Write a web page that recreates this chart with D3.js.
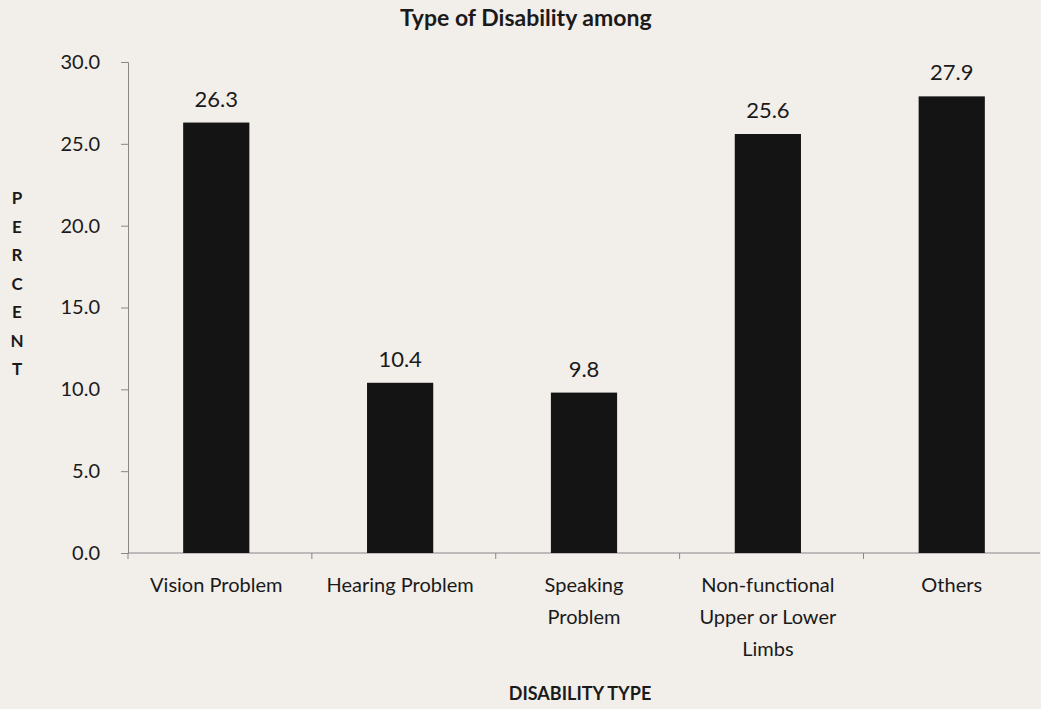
<!DOCTYPE html>
<html>
<head>
<meta charset="utf-8">
<script src="https://cdn.jsdelivr.net/npm/d3@7"></script>
<style>
  body { margin: 0; background: #f2eeea; }
  svg { display: block; }
  text { font-family: Lato, "Open Sans", sans-serif; fill: #1a1a1a; }
</style>
</head>
<body>
<svg id="chart"></svg>
<script>
let categories = [["Vision Problem"], ["Hearing Problem"], ["Speaking", "Problem"],
    ["Non-functional", "Upper or Lower", "Limbs"], ["Others"]]
let values = [26.3, 10.4, 9.8, 25.6, 27.9]
let tick_values = [0, 5, 10, 15, 20, 25, 30]

const width = 1041
const height = 709
const plot_left = 128, plot_right = 1040, plot_top = 62, plot_bottom = 553

const svg = d3.select("#chart")
    .attr("width", width)
    .attr("height", height)

svg.append("rect")
    .attr("width", width)
    .attr("height", height)
    .attr("fill", "#f2eeea")

const x = d3.scaleBand()
    .domain(d3.range(values.length))
    .range([plot_left, plot_right])
    .paddingInner(0.64)
    .paddingOuter(0.3)

const y = d3.scaleLinear()
    .domain([0, 30])
    .range([plot_bottom, plot_top])

// title (the scan cuts it at the top edge)
svg.append("text")
    .attr("x", 400)
    .attr("y", 26)
    .attr("font-size", 23)
    .attr("font-weight", "bold")
    .text("Type of Disability among")

// y axis
const yAxis = svg.append("g")
    .attr("transform", `translate(${plot_left},0)`)
    .call(d3.axisLeft(y).tickValues(tick_values).tickSize(7).tickFormat(d3.format(".1f")))
yAxis.select(".domain").attr("stroke", "#888").attr("stroke-width", 1)
yAxis.selectAll(".tick line").attr("stroke", "#888")
yAxis.selectAll(".tick text")
    .attr("x", -28)
    .attr("font-size", 20)
    .attr("font-family", "Lato, sans-serif")
    .attr("fill", "#1a1a1a")

// x axis line with ticks between categories
const step = x.step()
const boundaries = d3.range(values.length + 1).map(i => plot_left + i * step)
svg.append("line")
    .attr("x1", plot_left).attr("x2", plot_right)
    .attr("y1", plot_bottom).attr("y2", plot_bottom)
    .attr("stroke", "#888")
svg.selectAll(".xtick")
    .data(boundaries)
    .join("line")
    .attr("class", "xtick")
    .attr("x1", d => d).attr("x2", d => d)
    .attr("y1", plot_bottom).attr("y2", plot_bottom + 6)
    .attr("stroke", "#888")

// bars
svg.selectAll(".bar")
    .data(values)
    .join("rect")
    .attr("class", "bar")
    .attr("x", (d, i) => x(i))
    .attr("y", d => y(d))
    .attr("width", x.bandwidth())
    .attr("height", d => y(0) - y(d))
    .attr("fill", "#141414")

// value labels
svg.selectAll(".val")
    .data(values)
    .join("text")
    .attr("class", "val")
    .attr("x", (d, i) => x(i) + x.bandwidth() / 2)
    .attr("y", d => y(d) - 16)
    .attr("text-anchor", "middle")
    .attr("font-size", 22)
    .text(d => d.toFixed(1))

// category labels
const cat = svg.selectAll(".cat")
    .data(categories)
    .join("text")
    .attr("class", "cat")
    .attr("text-anchor", "middle")
    .attr("font-size", 20)
cat.selectAll("tspan")
    .data((d, i) => d.map(line => ({line, i})))
    .join("tspan")
    .attr("x", d => x(d.i) + x.bandwidth() / 2)
    .attr("y", (d, j) => 592 + j * 32)
    .text(d => d.line)

// axis titles
svg.selectAll(".ylab")
    .data("PERCENT".split(""))
    .join("text")
    .attr("class", "ylab")
    .attr("x", 17)
    .attr("y", (d, i) => 204 + i * 28.5)
    .attr("text-anchor", "middle")
    .attr("font-size", 17)
    .attr("font-weight", "bold")
    .text(d => d)

svg.append("text")
    .attr("x", 580)
    .attr("y", 700)
    .attr("text-anchor", "middle")
    .attr("font-size", 18)
    .attr("font-weight", "bold")
    .text("DISABILITY TYPE")
</script>
</body>
</html>
